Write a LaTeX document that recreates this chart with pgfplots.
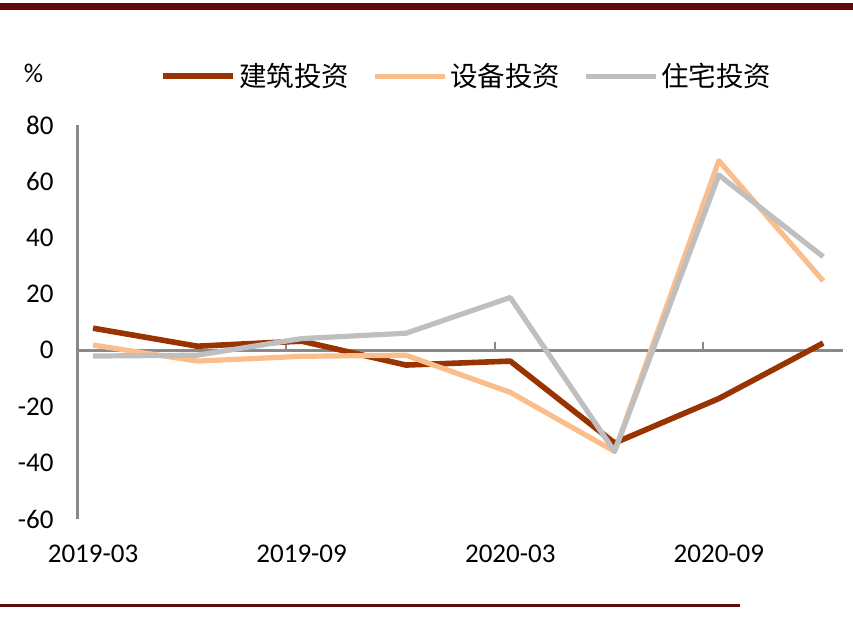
\documentclass[border=0pt]{standalone}
\usepackage{pgfplots}
\pgfplotsset{compat=1.18}
\usepackage{fontspec}
\setmainfont{Carlito}
\newfontfamily\cjk{Noto Sans CJK SC}

\definecolor{jianzhu}{RGB}{153,51,0}
\definecolor{shebei}{RGB}{250,190,140}
\definecolor{zhuzhai}{RGB}{191,191,191}
\definecolor{axisgray}{RGB}{137,137,137}
\definecolor{rule}{RGB}{96,10,10}

\begin{document}
\begin{tikzpicture}
\useasboundingbox (0,0) rectangle (426.5pt,310.5pt);
% rules top and bottom
\fill[rule] (0,305.5pt) rectangle (426.5pt,309pt);
\fill[rule] (0,7pt) rectangle (370pt,8.5pt);
\node[anchor=center, font=\fontsize{13.5}{16}\selectfont] at (16.8pt,274pt) {\%};

\begin{axis}[
    scale only axis,
    width=382.75pt, height=197pt,
    at={(38.75pt,51pt)}, anchor=south west,
    xmin=-0.149, xmax=7.19,
    ymin=-60, ymax=80,
    clip=false,
    axis lines*=left,
    x axis line style={draw=none},
    y axis line style={draw=axisgray, line width=1.5pt},
    major tick length=0pt,
    xtick={0,2,4,6},
    xticklabels={2019-03,2019-09,2020-03,2020-09},
    ytick={-60,-40,-20,0,20,40,60,80},
    tick label style={font=\fontsize{13.5}{16}\selectfont},
    /pgf/number format/assume math mode=true,
    yticklabel style={xshift=-8.5pt},
    xticklabel style={yshift=-9.5pt},
    legend style={draw=none, fill=none, at={(0.1,1.124)}, anchor=west,
        font=\fontsize{13.75}{16}\selectfont,
        nodes={inner xsep=1.5pt},
        /tikz/every even column/.append style={column sep=10pt}},
    legend columns=3,
    legend image code/.code={\draw[#1] (0pt,0pt) -- (35pt,0pt);},
]
\addplot[axisgray, line width=1.5pt, forget plot] coordinates {(-0.149,0) (7.19,0)};
\draw[axisgray, line width=1pt] (axis cs:1.851,0) -- (axis cs:1.851,2.8);
\draw[axisgray, line width=1pt] (axis cs:3.851,0) -- (axis cs:3.851,2.8);
\draw[axisgray, line width=1pt] (axis cs:5.851,0) -- (axis cs:5.851,2.8);

\addplot[jianzhu, line width=2.8pt, line join=round] coordinates {
(0,7.8)(1,1.4)(2,3.2)(3,-5.3)(4,-3.9)(5,-33)(6,-17.2)(7,2.5)
};
\addplot[shebei, line width=2.6pt, line join=round] coordinates {
(0,1.8)(1,-3.9)(2,-2.2)(3,-1.8)(4,-15)(5,-36)(6,67.3)(7,24.6)
};
\addplot[zhuzhai, line width=2.6pt, line join=round] coordinates {
(0,-2.1)(1,-1.8)(2,4.1)(3,6)(4,18.7)(5,-36)(6,62.2)(7,33.2)
};
\legend{{\cjk 建筑投资},{\cjk 设备投资},{\cjk 住宅投资}}
\end{axis}
\end{tikzpicture}
\end{document}
